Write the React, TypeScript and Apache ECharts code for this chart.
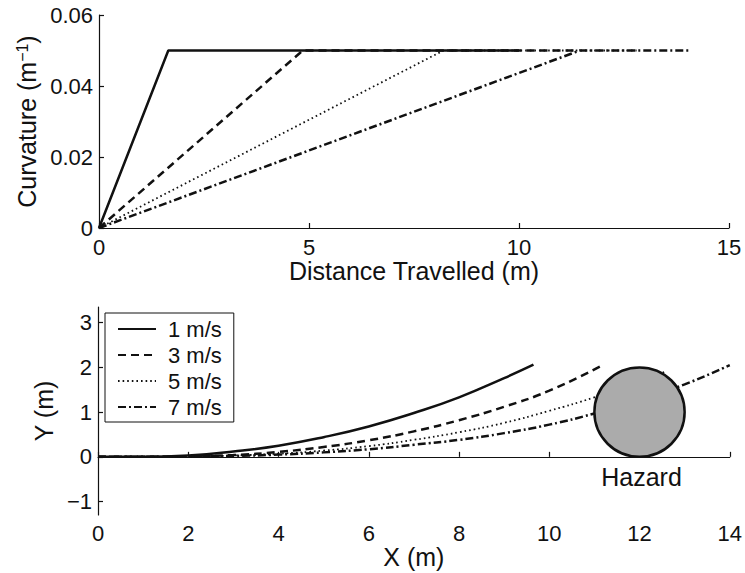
import React, { useEffect, useRef } from "react";
import * as echarts from "echarts";

const SERIES_NAMES = ["1 m/s", "3 m/s", "5 m/s", "7 m/s"];

// Top panel: curvature (1/m) vs distance travelled (m)
const curvature1 = [[0, 0], [1.65, 0.05], [10, 0.05]];
const curvature3 = [[0, 0], [4.85, 0.05], [11.4, 0.05]];
const curvature5 = [[0, 0], [8.2, 0.05], [12.8, 0.05]];
const curvature7 = [[0, 0], [11.45, 0.05], [14.1, 0.05]];

// Bottom panel: paths Y (m) vs X (m)
const path1 = [[0, 0], [1, 0], [2, 0.03], [3, 0.12], [4, 0.25], [5, 0.44], [6, 0.68], [7, 0.98], [8, 1.33], [9, 1.76], [9.65, 2.06]];
const path3 = [[0, 0], [1, 0], [2, 0.01], [3, 0.04], [4, 0.11], [5, 0.22], [6, 0.37], [7, 0.57], [8, 0.82], [9, 1.12], [10, 1.48], [11.2, 2.06]];
const path5 = [[0, 0], [1, 0], [2, 0.01], [3, 0.03], [4, 0.07], [5, 0.14], [6, 0.24], [7, 0.38], [8, 0.55], [9, 0.76], [10, 1.03], [11, 1.33], [12, 1.68], [12.6, 1.92]];
const path7 = [[0, 0], [1, 0], [2, 0.01], [3, 0.02], [4, 0.05], [5, 0.1], [6, 0.17], [7, 0.27], [8, 0.38], [9, 0.53], [10, 0.72], [11, 0.97], [12, 1.27], [13, 1.62], [14, 2.05]];

// Hazard: centre x, centre y, radius (m)
const hazard = [[12, 1, 1]];
const HAZARD_LABEL = "Hazard";

const Y_TICKS_BOTTOM = [-1, 0, 1, 2, 3];

const FONT = "'Liberation Sans', Arial, Helvetica, sans-serif";
const INK = "#111";

const lineStyles = [
  { width: 2.5, type: "solid" },
  { width: 2.5, type: [8, 5] },
  { width: 1.8, type: [1.6, 3] },
  { width: 2.5, type: [8, 3, 2, 3] },
];

const curvatures = [curvature1, curvature3, curvature5, curvature7];
const paths = [path1, path3, path5, path7];

export default function App() {
  const ref = useRef<HTMLDivElement>(null);
  useEffect(() => {
    if (!ref.current) return;
    const chart = echarts.init(ref.current, null, { renderer: "svg" });

    const axisCommon = {
      axisLine: { lineStyle: { color: INK, width: 1.2 } },
      axisTick: { inside: true, length: 5, lineStyle: { color: INK, width: 1.2 } },
      splitLine: { show: false },
      axisLabel: { color: INK, fontSize: 22, fontFamily: FONT },
      nameTextStyle: { color: INK, fontSize: 25, fontFamily: FONT },
    };

    const series: any[] = [];
    curvatures.forEach((d, i) => {
      series.push({
        name: SERIES_NAMES[i],
        type: "line",
        xAxisIndex: 0,
        yAxisIndex: 0,
        data: d,
        symbol: "none",
        lineStyle: { color: INK, ...lineStyles[i] },
        itemStyle: { color: INK },
      });
    });
    paths.forEach((d, i) => {
      series.push({
        name: SERIES_NAMES[i],
        type: "line",
        xAxisIndex: 1,
        yAxisIndex: 1,
        data: d,
        symbol: "none",
        smooth: 0.5,
        lineStyle: { color: INK, ...lineStyles[i] },
        itemStyle: { color: INK },
      });
    });
    series.push({
      type: "custom",
      xAxisIndex: 1,
      yAxisIndex: 1,
      z: 10,
      data: hazard,
      renderItem: (params: any, api: any) => {
        const cx = api.value(0);
        const cy = api.value(1);
        const r = api.value(2);
        const c = api.coord([cx, cy]);
        const ex = api.coord([cx + r, cy]);
        const ey = api.coord([cx, cy + r]);
        const rx = Math.abs(ex[0] - c[0]);
        const ry = Math.abs(c[1] - ey[1]);
        return {
          type: "group",
          children: [
            {
              type: "ellipse",
              shape: { cx: c[0], cy: c[1], rx, ry },
              style: { fill: "#ababab", stroke: INK, lineWidth: 2.5 },
            },
            {
              type: "text",
              style: {
                text: HAZARD_LABEL,
                x: c[0] + 2,
                y: c[1] + ry + 8,
                align: "center",
                verticalAlign: "top",
                fill: INK,
                font: `25px ${FONT}`,
              },
            },
          ],
        };
      },
    });

    chart.setOption({
      animation: false,
      backgroundColor: "#fff",
      textStyle: { fontFamily: FONT },
      legend: {
        data: SERIES_NAMES,
        orient: "vertical",
        left: 105,
        top: 313,
        padding: [5, 12, 4, 12],
        itemWidth: 38,
        itemHeight: 14,
        itemGap: 4,
        backgroundColor: "#fff",
        borderColor: INK,
        borderWidth: 1,
        borderRadius: 0,
        selectedMode: false,
        itemStyle: { opacity: 0 },
        textStyle: { color: INK, fontSize: 22, fontFamily: FONT, padding: [0, 0, 0, 7] },
      },
      grid: [
        { left: 99, top: 15, width: 630, height: 213, containLabel: false },
        { left: 98, top: 307, width: 632, height: 208, containLabel: false },
      ],
      xAxis: [
        {
          ...axisCommon,
          gridIndex: 0,
          type: "value",
          min: 0,
          max: 15,
          interval: 5,
          name: "Distance Travelled (m)",
          nameLocation: "middle",
          nameGap: 29,
          axisLabel: { ...axisCommon.axisLabel, margin: 8 },
        },
        {
          ...axisCommon,
          gridIndex: 1,
          type: "value",
          min: 0,
          max: 14,
          interval: 2,
          name: "X (m)",
          nameLocation: "middle",
          nameGap: 28,
          axisLabel: { ...axisCommon.axisLabel, margin: 7 },
        },
      ],
      yAxis: [
        {
          ...axisCommon,
          gridIndex: 0,
          type: "value",
          min: 0,
          max: 0.06,
          interval: 0.02,
          name: "{a|Curvature (m}{b|−1}{a|)}",
          nameLocation: "middle",
          nameGap: 58,
          nameTextStyle: {
            ...axisCommon.nameTextStyle,
            rich: {
              a: { fontSize: 25, fontFamily: FONT, color: INK },
              b: { fontSize: 16, fontFamily: FONT, color: INK, verticalAlign: "top", lineHeight: 25 },
            },
          },
          axisLabel: {
            ...axisCommon.axisLabel,
            margin: 6,
            formatter: (v: number) => (v === 0 ? "0" : v.toFixed(2)),
          },
        },
        {
          ...axisCommon,
          gridIndex: 1,
          type: "value",
          min: -1.3,
          max: 3.35,
          name: "Y (m)",
          nameLocation: "middle",
          nameGap: 36,
          axisTick: { ...axisCommon.axisTick, customValues: Y_TICKS_BOTTOM },
          axisLabel: {
            ...axisCommon.axisLabel,
            margin: 6,
            customValues: Y_TICKS_BOTTOM,
            formatter: (v: number) => (v < 0 ? "−" + Math.abs(v) : String(v)),
          },
        },
      ],
      series,
    });
    return () => chart.dispose();
  }, []);
  return (
    <div
      ref={ref}
      style={{ position: "fixed", left: 0, top: 0, width: 745, height: 573, background: "#fff" }}
    />
  );
}
